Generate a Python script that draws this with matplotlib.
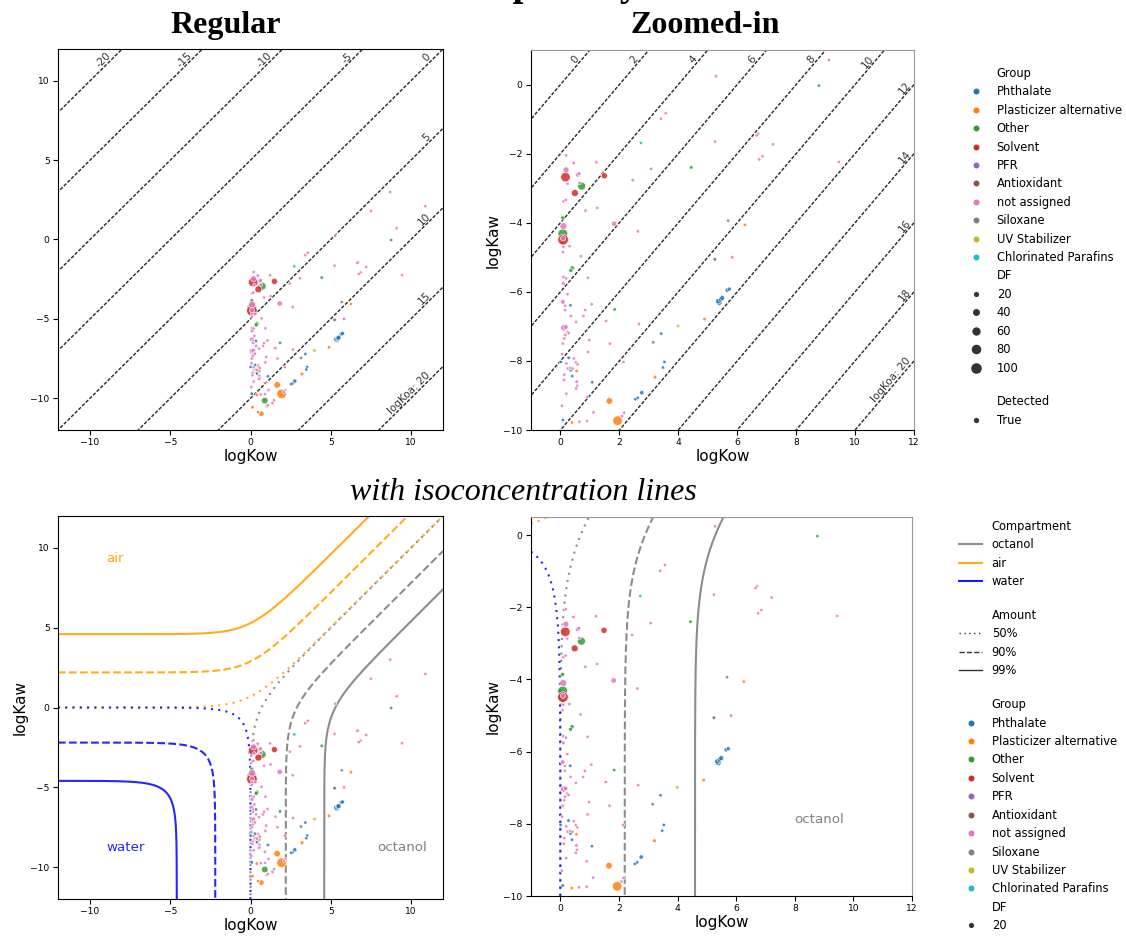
import numpy as np
import matplotlib
matplotlib.use("Agg")
import matplotlib.pyplot as plt
from matplotlib.lines import Line2D

# ---------------------------------------------------------------- data ----
GROUPS = ["Phthalate", "Plasticizer alternative", "Other", "Solvent", "PFR",
          "Antioxidant", "not assigned", "Siloxane", "UV Stabilizer",
          "Chlorinated Parafins"]
GROUP_COLORS = ["tab:blue", "tab:orange", "tab:green", "tab:red", "tab:purple",
                "tab:brown", "tab:pink", "tab:gray", "tab:olive", "tab:cyan"]

# one entry per compound: partition coefficients, group and detection frequency
log_kow = [
    5.39, 5.36, 5.43, 5.49, 5.66, 5.73, 3.42, 3.53, 3.48, 2.76, 2.62, 2.54,
    1.08, 0.28, 0.35, 0.40, 0.08, 0.01, 0.34,
    1.94, 1.66, 3.21, 4.89, 6.26, 0.55, 0.39, 0.12, 0.68, 0.47,
    0.08, 0.72, 0.08, 0.40, 0.35, 1.84, 4.44, 8.77, 0.89, 0.07,
    0.09, 0.17, 0.49, 1.49,
    5.24,
    5.69, 3.15,
    3.99,
    2.73,
    8.71, 10.90, 7.50, 9.11, 5.28, 3.57, 3.41, 6.71, 6.66, 7.21, 6.86, 6.75,
    5.24, 9.45, 3.08, 2.45, 1.22, 2.63, 1.82, 5.83, 0.19, 0.45, 0.19, 0.59,
    0.63, 0.24, 0.65, 0.10, 0.18, 0.85, 1.25, 0.10, 0.09, 0.10, 0.08, 0.31,
    0.69, 0.93, 0.10, 0.19, 0.10, 0.24, 0.08, 0.16, 0.16, 0.84, 1.06, 0.35,
    0.78, 0.53, 0.11, 0.18, 0.24, 0.16, 0.13, 0.28, 0.98, 1.68, 0.08, 0.93,
    0.06, 0.20, 0.46, 0.53, 0.58, 0.25, 0.33, 0.41, 0.13, 0.12, 0.55, 0.57,
    0.53, 0.90, 1.12, 0.64, 0.90, 2.14, 1.55, 2.66, 2.16, 2.09, 1.00, 1.08,
    1.37, 1.47, 0.20, 0.05,
]
log_kaw = [
    -6.31, -6.27, -6.23, -6.18, -5.95, -5.92, -7.21, -8.03, -8.19, -8.92, -9.07, -9.11,
    -8.62, -7.91, -8.27, -8.44, -9.71, -8.03, -6.39,
    -9.73, -9.16, -8.47, -6.79, -4.06, -8.29, -9.78, -10.57, -10.97, -10.88,
    -4.32, -2.94, -3.86, -5.31, -5.38, -6.51, -2.40, -0.03, -10.15, -4.59,
    -4.49, -2.68, -3.14, -2.64,
    -5.06,
    -3.94, -7.46,
    -6.99,
    -1.69,
    3.00, 2.10, 1.80, 0.71, 0.24, -0.83, -0.99, -1.42, -1.47, -1.73, -2.08, -2.17,
    -1.65, -2.24, -2.44, -2.77, -2.25, -4.25, -4.03, -5.00, -2.05, -2.27, -2.47, -2.61,
    -2.58, -2.87, -2.85, -3.38, -3.34, -3.65, -3.57, -4.10, -4.45, -4.70, -4.85, -4.68,
    -4.97, -5.59, -5.57, -5.61, -5.76, -6.07, -6.29, -6.40, -6.53, -6.53, -6.36, -6.70,
    -6.70, -6.87, -7.04, -7.02, -7.16, -7.25, -7.35, -7.20, -7.40, -7.50, -7.50, -7.74,
    -7.80, -8.07, -7.93, -8.04, -8.10, -8.22, -8.20, -8.22, -8.40, -8.55, -8.60, -8.72,
    -8.80, -9.04, -9.49, -9.76, -9.74, -8.03, -6.84, -6.93, -9.50, -9.60, -10.50, -10.44,
    -10.30, -10.13, -8.95, -9.30,
]
group = (["Phthalate"] * 19 + ["Plasticizer alternative"] * 10 + ["Other"] * 10
         + ["Solvent"] * 4 + ["Antioxidant"] + ["Siloxane"] * 2
         + ["UV Stabilizer"] + ["Chlorinated Parafins"] + ["not assigned"] * 88)
det_freq = [
    25, 22, 15, 18, 12, 10, 5, 5, 5, 12, 6, 5,
    5, 6, 6, 5, 6, 5, 5,
    80, 35, 8, 6, 5, 5, 6, 6, 22, 5,
    85, 55, 10, 12, 10, 6, 6, 5, 35, 6,
    100, 80, 40, 30,
    6,
    5, 6,
    6,
    5,
    5, 5, 5, 5, 5, 5, 5, 5, 5, 5, 5, 5,
    5, 5, 5, 5, 5, 5, 22, 6, 5, 6, 28, 15,
    8, 5, 5, 5, 5, 5, 5, 40, 20, 6, 5, 5,
    5, 5, 6, 5, 8, 5, 15, 5, 5, 5, 5, 5,
    5, 5, 30, 15, 5, 6, 5, 5, 5, 5, 5, 5,
    5, 5, 5, 5, 5, 5, 5, 5, 5, 5, 6, 5,
    5, 5, 5, 5, 5, 5, 5, 5, 5, 5, 5, 5,
    5, 5, 5, 5,
]

DF_LEVELS = [20, 40, 60, 80, 100]
KOA_LEVELS_REGULAR = [-20, -15, -10, -5, 0, 5, 10, 15, 20]
KOA_LEVELS_ZOOM = [0, 2, 4, 6, 8, 10, 12, 14, 16, 18, 20]
COMPARTMENTS = ["octanol", "air", "water"]
COMPARTMENT_COLORS = ["gray", "orange", "blue"]
AMOUNTS = [0.50, 0.90, 0.99]
AMOUNT_LABELS = ["50%", "90%", "99%"]
AMOUNT_STYLES = [(0, (1, 2.5)), "--", "-"]


def df_to_area(d):
    return 0.55 * np.asarray(d, dtype=float) + 3.0


kow = np.array(log_kow)
kaw = np.array(log_kaw)
color_of = dict(zip(GROUPS, GROUP_COLORS))
point_colors = [color_of[g] for g in group]
point_sizes = df_to_area(det_freq)

# --------------------------------------------------------------- figure ----
W, H = 1126, 938
fig = plt.figure(figsize=(W / 100, H / 100), dpi=100)


def px_axes(x0, y0, x1, y1):
    return fig.add_axes([x0 / W, 1 - y1 / H, (x1 - x0) / W, (y1 - y0) / H])


ax_reg = px_axes(58, 49, 443, 430)
ax_zoom = px_axes(531, 50, 914, 430)
ax_iso = px_axes(58, 516, 443, 899)
ax_iso_zoom = px_axes(531, 517, 912, 896)


def draw_compounds(ax):
    ax.scatter(kow, kaw, s=point_sizes, c=point_colors, edgecolors="white",
               linewidths=0.5, alpha=0.85, zorder=3)


def setup(ax, xlim, ylim, xticks, yticks, ylabel=True):
    ax.set_xlim(*xlim)
    ax.set_ylim(*ylim)
    ax.set_xticks(xticks)
    ax.set_yticks(yticks)
    ax.tick_params(labelsize=6.6, length=3.5, pad=2.5)
    ax.set_xlabel("logKow", fontsize=11, labelpad=1)
    if ylabel:
        ax.set_ylabel("logKaw", fontsize=11, labelpad=2)


def draw_koa_lines(ax, levels, back_top, back_right):
    x0, x1 = ax.get_xlim()
    y0, y1 = ax.get_ylim()
    xs = np.array([x0 - 1, x1 + 1])
    for k in levels:
        ax.plot(xs, xs - k, color="0.15", lw=1.0, ls=(0, (2.5, 1.2)), zorder=1)
        if y1 + k < x1:          # line leaves through the top edge
            ya = y1 - back_top
            xa = ya + k
        else:                    # line leaves through the right edge
            xa = x1 - back_right
            ya = xa - k
        label = f"logKoa: {k}" if k == levels[-1] else f"{k}"
        ax.text(xa, ya, label, rotation=45, transform_rotates_text=True,
                rotation_mode="anchor", ha="right", va="bottom",
                fontsize=7.5, color="0.2", zorder=2)
    ax.set_xlim(x0, x1)
    ax.set_ylim(y0, y1)


def draw_iso_lines(ax):
    s = np.linspace(-30, 30, 6000)
    soft = np.log1p(np.exp(s))
    t = 1.0 / (1.0 + np.exp(-s))
    for p, ls in zip(AMOUNTS, AMOUNT_STYLES):
        shift = np.log(p / (1 - p))
        c = (1 - p) / p
        ax.plot(shift + soft, s, color="gray", ls=ls, lw=1.5, alpha=0.9, zorder=2)
        ax.plot(s, shift + soft, color="orange", ls=ls, lw=1.5, alpha=0.9, zorder=2)
        ax.plot(np.log(c * t), np.log(c * (1 - t)), color="blue", ls=ls, lw=1.5,
                alpha=0.85, zorder=2)


# Regular
setup(ax_reg, (-12, 12), (-12, 12), [-10, -5, 0, 5, 10], [-10, -5, 0, 5, 10],
      ylabel=False)
draw_koa_lines(ax_reg, KOA_LEVELS_REGULAR, 0.55, 0.65)
draw_compounds(ax_reg)

# Zoomed-in
setup(ax_zoom, (-1, 12), (-10, 1), range(0, 13, 2), range(-10, 1, 2))
draw_koa_lines(ax_zoom, KOA_LEVELS_ZOOM, 0.3, 0.05)
draw_compounds(ax_zoom)

# isoconcentration, full range
setup(ax_iso, (-12, 12), (-12, 12), [-10, -5, 0, 5, 10], [-10, -5, 0, 5, 10])
draw_iso_lines(ax_iso)
draw_compounds(ax_iso)
ax_iso.set_xlim(-12, 12)
ax_iso.set_ylim(-12, 12)
ax_iso.text(-9.0, 9.33, "air", color="orange", fontsize=9.6, ha="left", va="center")
ax_iso.text(-9.0, -8.78, "water", color="blue", alpha=0.85, fontsize=9.6,
            ha="left", va="center")
ax_iso.text(11.0, -8.78, "octanol", color="gray", fontsize=9.6, ha="right",
            va="center")

# isoconcentration, zoomed
setup(ax_iso_zoom, (-1, 12), (-10, 0.5), range(0, 13, 2), range(-10, 1, 2))
draw_iso_lines(ax_iso_zoom)
draw_compounds(ax_iso_zoom)
ax_iso_zoom.set_xlim(-1, 12)
ax_iso_zoom.set_ylim(-10, 0.5)
ax_iso_zoom.text(9.67, -7.89, "octanol", color="gray", fontsize=9.6, ha="right",
                 va="center")

for ax in (ax_zoom, ax_iso_zoom):
    ax.spines["top"].set_color("0.6")
    ax.spines["right"].set_color("0.6")

# -------------------------------------------------------------- legends ----
def blank():
    return Line2D([], [], linestyle="none")


group_handles = [Line2D([], [], marker="o", linestyle="none", color=c,
                        markersize=4.3, markeredgewidth=0) for c in GROUP_COLORS]
df_handles = [Line2D([], [], marker="o", linestyle="none", color="0.2",
                     markersize=np.sqrt(df_to_area(d)), markeredgewidth=0)
              for d in DF_LEVELS]
true_handle = Line2D([], [], marker="o", linestyle="none", color="0.2",
                     markersize=3.8, markeredgewidth=0)

top_handles = ([blank()] + group_handles + [blank()] + df_handles
               + [blank(), blank(), true_handle])
top_labels = (["Group"] + GROUPS + ["DF"] + [str(d) for d in DF_LEVELS]
              + ["", "Detected", "True"])

# the lower legend runs off the bottom of the canvas after its first DF entry
comp_handles = [Line2D([], [], color=c, lw=1.5, alpha=0.9) for c in COMPARTMENT_COLORS]
amount_handles = [Line2D([], [], color="0.2", lw=1.0, ls=ls) for ls in AMOUNT_STYLES]
bottom_handles = ([blank()] + comp_handles + [blank(), blank()] + amount_handles
                  + [blank(), blank()] + group_handles + [blank()] + df_handles[:1])
bottom_labels = (["Compartment"] + COMPARTMENTS + ["", "Amount"] + AMOUNT_LABELS
                 + ["", "Group"] + GROUPS + ["DF"] + [str(DF_LEVELS[0])])

legend_kw = dict(loc="upper left", bbox_transform=fig.transFigure, frameon=False,
                 fontsize=8.3, labelspacing=0.47, handlelength=2.0,
                 handletextpad=0.8, borderpad=0.4)
leg_top = fig.legend(top_handles, top_labels,
                     bbox_to_anchor=(954 / W, 1 - 56.5 / H), **legend_kw)
leg_bottom = fig.legend(bottom_handles, bottom_labels,
                        bbox_to_anchor=(949 / W, 1 - 509.5 / H), **legend_kw)
for leg in (leg_top, leg_bottom):
    for txt in leg.get_texts():
        if txt.get_text() == "":
            txt.set_fontsize(5.5)

# --------------------------------------------------------------- titles ----
serif = ["Liberation Serif", "DejaVu Serif"]
fig.text(330 / W, 1 + 5 / H, "Chemical space by Kow and Kaw", fontsize=28,
         fontweight="bold", family=serif, ha="left", va="baseline")
fig.text(226 / W, 1 - 33 / H, "Regular", fontsize=23, fontweight="bold",
         family=serif, ha="center", va="baseline")
fig.text(705 / W, 1 - 33 / H, "Zoomed-in", fontsize=23, fontweight="bold",
         family=serif, ha="center", va="baseline")
fig.text(523 / W, 1 - 500 / H, "with isoconcentration lines", fontsize=23,
         fontstyle="italic", family=serif, ha="center", va="baseline")

fig.savefig("out.png", dpi=100)
